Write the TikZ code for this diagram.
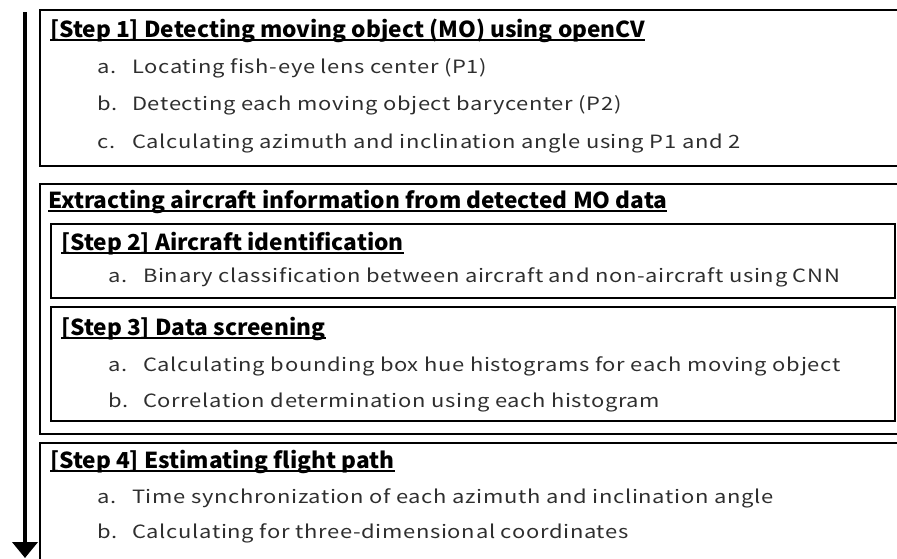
\documentclass[tikz,border=0pt]{standalone}
\usepackage{fontspec}
\setmainfont{Noto Sans CJK JP}
\newfontfamily\itemfont[FakeStretch=1.2, LetterSpace=3.6, Ligatures=NoCommon]{Noto Sans CJK JP}
\newfontfamily\headfont[FakeStretch=1.03, Ligatures=NoCommon]{Noto Sans CJK JP}
\usetikzlibrary{arrows.meta}
\newcommand\myul[1]{\setbox0\hbox{#1}\rlap{\rule[-3.5pt]{\wd0}{1.2pt}}\box0}
\newcommand\lbl[1]{\makebox[35pt][l]{#1}}
\tikzset{
  framebox/.style={draw=black, line width=1.6pt},
  itemtext/.style={anchor=base west, inner sep=0pt, text=black!82, font=\itemfont\fontsize{18.3}{20}\selectfont},
  headtext/.style={anchor=base west, inner sep=0pt, text=black, font=\headfont\fontsize{22}{26}\selectfont\bfseries},
}
\begin{document}
\begin{tikzpicture}[x=1pt,y=-1pt]
\useasboundingbox (0,0) rectangle (897,558);
\clip (0,0) rectangle (897,558);
% flow arrow
\coordinate (arrowtop) at (25,12);
\coordinate (arrowtip) at (25,558);
\draw[line width=4.5pt, -{Triangle[width=25pt,length=16pt]}] (arrowtop) -- (arrowtip);
% boxes
\draw[framebox] (40,10) rectangle (910,166);
\draw[framebox] (40,184) rectangle (910,434);
\draw[framebox] (51,224) rectangle (895,298);
\draw[framebox] (51,307) rectangle (895,421);
\draw[framebox] (40,443) rectangle (910,580);
% step 1
\node[headtext] (t1) at (50,37) {\myul{[Step 1] Detecting moving object (MO) using openCV}};
\node[itemtext] (s1a) at (97,73) {\lbl{a.}Locating fish-eye lens center (P1)};
\node[itemtext] (s1b) at (97,110) {\lbl{b.}Detecting each moving object barycenter (P2)};
\node[itemtext] (s1c) at (97,148) {\lbl{c.}Calculating azimuth and inclination angle using P1 and 2};
% extracting group
\node[headtext] (tx) at (48,208) {\myul{Extracting aircraft information from detected MO data}};
\node[headtext] (t2) at (61,250) {\myul{[Step 2] Aircraft identification}};
\node[itemtext] (s2a) at (108,282) {\lbl{a.}Binary classification between aircraft and non-aircraft using CNN};
\node[headtext] (t3) at (61,335) {\myul{[Step 3] Data screening}};
\node[itemtext] (s3a) at (108,371) {\lbl{a.}Calculating bounding box hue histograms for each moving object};
\node[itemtext] (s3b) at (108,407) {\lbl{b.}Correlation determination using each histogram};
% step 4
\node[headtext] (t4) at (50,468) {\myul{[Step 4] Estimating flight path}};
\node[itemtext] (s4a) at (97,503) {\lbl{a.}Time synchronization of each azimuth and inclination angle};
\node[itemtext] (s4b) at (97,538) {\lbl{b.}Calculating for three-dimensional coordinates};
\end{tikzpicture}
\end{document}
